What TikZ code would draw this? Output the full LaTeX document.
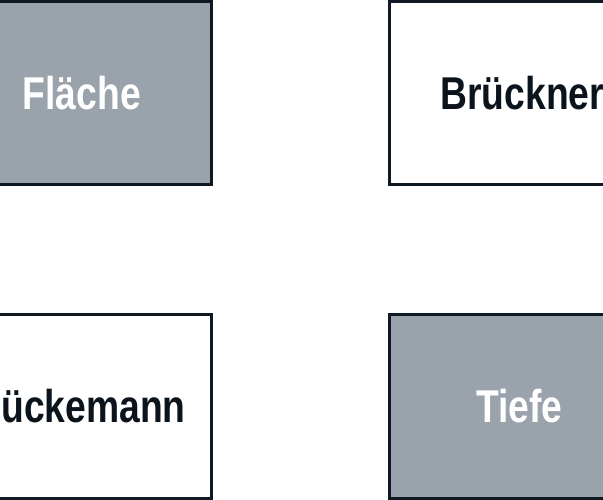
\documentclass[tikz,border=0pt]{standalone}
\usepackage{fontspec}
\setmainfont{Liberation Sans}[FakeStretch=0.81]
\definecolor{boxgray}{HTML}{9AA3AC}
\definecolor{edge}{HTML}{0E1923}
\definecolor{ink}{HTML}{0B141D}
\begin{document}
\begin{tikzpicture}[x=1pt,y=1pt,
  cell/.style={rectangle, draw=edge, line width=3pt, minimum width=259.5pt, minimum height=183.5pt, inner sep=0pt, font=\fontsize{46}{50}\selectfont\bfseries},
  darkcell/.style={cell, fill=boxgray, text=white},
  lightcell/.style={cell, fill=white, text=ink}]
\useasboundingbox (0,0) rectangle (603,-500);
\clip (0,0) rectangle (603,-500);
\fill[white] (0,0) rectangle (603,-500);
\node[darkcell] (flaeche) at (81.75,-93.25) {Fläche};
\node[lightcell] (brueckner) at (519.25,-93.25) {\kern6pt Brückner};
\node[lightcell] (brueckemann) at (81.75,-406.5) {Brückemann\kern18pt};
\node[darkcell] (tiefe) at (519.25,-406.5) {Tiefe};
\end{tikzpicture}
\end{document}
